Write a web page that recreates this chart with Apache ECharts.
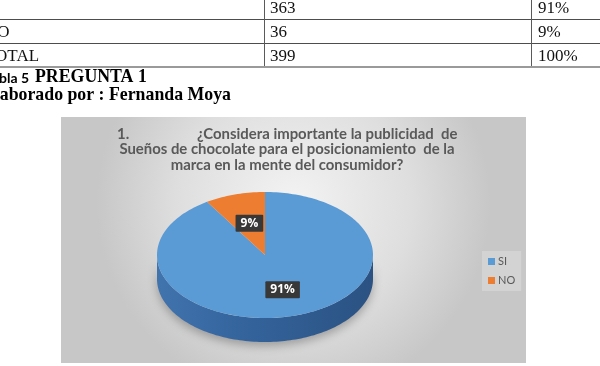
<!DOCTYPE html>
<html><head><meta charset="utf-8">
<script src="https://cdn.jsdelivr.net/npm/echarts@6/dist/echarts.min.js"></script>
<style>html,body{margin:0;padding:0;background:#fff}#c{width:600px;height:366px}</style>
</head><body><div id="c"></div>
<script>
// ---- data ----
const categories = ['SI', 'NO'];
const counts = [363, 36];
const percentLabels = ['91%', '9%'];
const tableLabels = ['SI', 'NO', 'TOTAL'];
const tableCounts = ['363', '36', '399'];
const tablePercents = ['91%', '9%', '100%'];
const captionTable = 'Tabla 5';
const captionQuestion = 'PREGUNTA 1';
const captionAuthor = 'Elaborado por : Fernanda Moya';
const titleNumber = '1.';
const titleLine1 = '¿Considera importante la publicidad  de';
const titleRest = 'Sueños de chocolate para el posicionamiento  de la\nmarca en la mente del consumidor?';

// ---- style ----
const colors = ['#5b9bd5', '#ed7d31'];
const total = counts.reduce((a, b) => a + b, 0);
const depth = 24;
const titleFont = 'Lato';
const serif = '"Liberation Serif", "Times New Roman", serif';

function sliceAngles(k) {
  let s = 0;
  for (let i = 0; i < k; i++) s += counts[i];
  return [s / total * 2 * Math.PI, (s + counts[k]) / total * 2 * Math.PI];
}
function arcPoints(api, a0, a1, r) {
  const n = Math.max(2, Math.ceil((a1 - a0) / (Math.PI / 120)));
  const pts = [];
  for (let i = 0; i <= n; i++) {
    const a = a0 + (a1 - a0) * i / n;
    pts.push(api.coord([r * Math.sin(a), r * Math.cos(a)]));
  }
  return pts;
}
function renderSlice(params, api) {
  const k = params.seriesIndex;
  const [a0, a1] = sliceAngles(k);
  const children = [];
  const s0 = Math.max(a0, Math.PI / 2), s1 = Math.min(a1, 1.5 * Math.PI);
  if (s1 > s0) {
    const top = arcPoints(api, s0, s1, 1);
    const bottom = top.map(p => [p[0], p[1] + depth]).reverse();
    children.push({
      type: 'polygon', z2: 0,
      shape: { points: top.concat(bottom) },
      style: {
        fill: new echarts.graphic.LinearGradient(0, 0, 1, 0, [
          { offset: 0, color: '#4173ad' },
          { offset: 0.45, color: '#33629a' },
          { offset: 1, color: '#2b5282' }
        ]),
        shadowBlur: 10, shadowColor: 'rgba(0,0,0,0.28)', shadowOffsetY: 4
      }
    });
  }
  const c = api.coord([0, 0]);
  children.push({
    type: 'polygon', z2: 1,
    shape: { points: [c].concat(arcPoints(api, a0, a1, 1)) },
    style: { fill: colors[k] }
  });
  const am = (a0 + a1) / 2;
  const lp = api.coord([0.55 * Math.sin(am), 0.55 * Math.cos(am)]);
  children.push({
    type: 'text', z2: 3, x: lp[0] + 1, y: lp[1] + 1.5,
    style: {
      text: percentLabels[k], align: 'center', verticalAlign: 'middle',
      fill: '#ffffff', font: 'bold 12px "Open Sans"',
      backgroundColor: '#383838', padding: [3, 5, 2, 5], borderRadius: 1
    }
  });
  return { type: 'group', children };
}

// ---- document bits (table fragment & captions) ----
const rowCenters = [9, 32.5, 56.5];
const graphics = [];
graphics.push({
  type: 'rect', z: -100, silent: true,
  shape: { x: 61, y: 117, width: 465, height: 246 },
  style: {
    fill: new echarts.graphic.RadialGradient(0.5, 0.35, 0.8, [
      { offset: 0, color: '#f3f3f3' },
      { offset: 0.6, color: '#dedede' },
      { offset: 1, color: '#c7c7c7' }
    ])
  }
});
[-5, 19, 43].forEach(y => graphics.push({
  type: 'line', silent: true, shape: { x1: 0, y1: y + 0.5, x2: 600, y2: y + 0.5 },
  style: { stroke: '#4d4d4d', lineWidth: 1 }
}));
graphics.push({
  type: 'line', silent: true, shape: { x1: 0, y1: 67, x2: 600, y2: 67 },
  style: { stroke: '#9a9a9a', lineWidth: 2 }
});
[264, 531].forEach(x => graphics.push({
  type: 'line', silent: true, shape: { x1: x + 0.5, y1: -5, x2: x + 0.5, y2: 66 },
  style: { stroke: '#5a5a5a', lineWidth: 1 }
}));
tableLabels.forEach((t, i) => {
  graphics.push({ type: 'text', silent: true, x: -15, y: rowCenters[i],
    style: { text: t, font: '17px ' + serif, fill: '#111', verticalAlign: 'middle' } });
  graphics.push({ type: 'text', silent: true, x: 270, y: rowCenters[i],
    style: { text: tableCounts[i], font: '17px ' + serif, fill: '#111', verticalAlign: 'middle' } });
  graphics.push({ type: 'text', silent: true, x: 538, y: rowCenters[i],
    style: { text: tablePercents[i], font: '17px ' + serif, fill: '#111', verticalAlign: 'middle' } });
});
graphics.push({ type: 'text', silent: true, x: -15, y: 78,
  style: { text: captionTable, font: 'bold 14px Lato', fill: '#000', verticalAlign: 'middle' } });
graphics.push({ type: 'text', silent: true, x: 35, y: 77.5,
  style: { text: captionQuestion, font: 'bold 17.8px ' + serif, fill: '#000', verticalAlign: 'middle' } });
graphics.push({ type: 'text', silent: true, x: -17, y: 95.5,
  style: { text: captionAuthor, font: 'bold 17.8px ' + serif, fill: '#000', verticalAlign: 'middle' } });

const titleStyle = { fontFamily: titleFont, fontWeight: 'bold', fontSize: 14.9, color: '#595959', lineHeight: 15.5 };

const chart = echarts.init(document.getElementById('c'), null, { renderer: 'canvas' });
chart.setOption({
  animation: false,
  backgroundColor: '#ffffff',
  title: [
    { text: titleNumber, left: 117, top: 126.5, padding: 0, textStyle: titleStyle },
    { text: titleLine1, left: 197, top: 126.5, padding: 0, textStyle: titleStyle },
    { text: titleRest, left: 287, textAlign: 'center', top: 141.8, padding: 0, textStyle: titleStyle }
  ],
  legend: {
    data: categories, orient: 'vertical', left: 482, top: 251,
    itemWidth: 7, itemHeight: 7, itemGap: 8, icon: 'rect',
    padding: [5, 6], backgroundColor: 'rgba(255,255,255,0.22)',
    textStyle: { fontFamily: titleFont, fontSize: 11, color: '#595959', padding: [0, 0, 0, -2] }
  },
  grid: { left: 157, top: 192, width: 216, height: 126 },
  xAxis: { type: 'value', min: -1, max: 1, show: false },
  yAxis: { type: 'value', min: -1, max: 1, show: false },
  graphic: graphics,
  series: categories.map((name, k) => ({
    type: 'custom', name, coordinateSystem: 'cartesian2d', clip: false, silent: true,
    itemStyle: { color: colors[k] },
    renderItem: renderSlice,
    data: [[0, 0]]
  }))
});
</script></body></html>
